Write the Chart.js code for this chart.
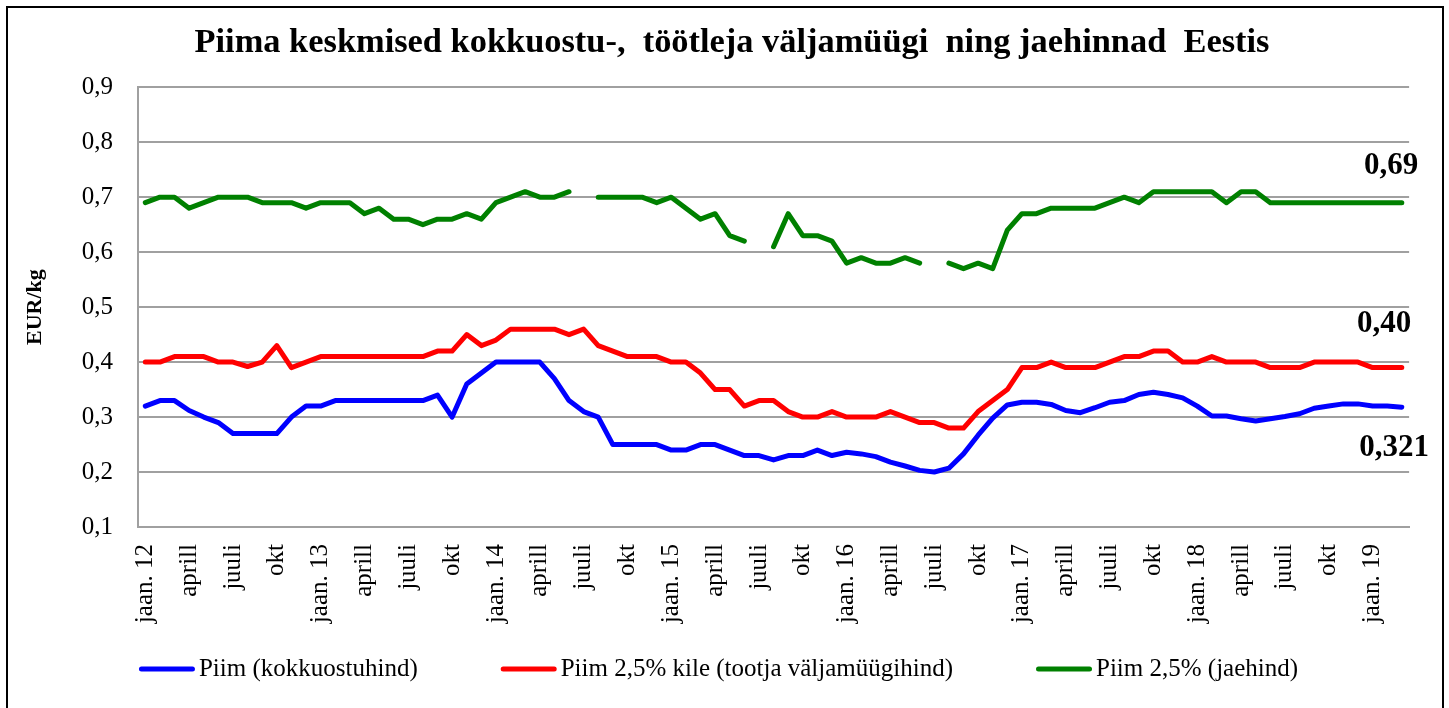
<!DOCTYPE html>
<html><head><meta charset="utf-8">
<script src="https://cdn.jsdelivr.net/npm/chart.js@4/dist/chart.umd.min.js"></script>
<style>html,body{margin:0;padding:0;background:#fff;overflow:hidden}#wrap{width:1449px;height:708px}</style>
</head><body><div id="wrap"><canvas id="c" width="1449" height="708"></canvas></div>
<script>
const categories = [
'jaan. 12','veebr','märts','aprill','mai','juuni','juuli','aug','sept','okt','nov','dets',
'jaan. 13','veebr','märts','aprill','mai','juuni','juuli','aug','sept','okt','nov','dets',
'jaan. 14','veebr','märts','aprill','mai','juuni','juuli','aug','sept','okt','nov','dets',
'jaan. 15','veebr','märts','aprill','mai','juuni','juuli','aug','sept','okt','nov','dets',
'jaan. 16','veebr','märts','aprill','mai','juuni','juuli','aug','sept','okt','nov','dets',
'jaan. 17','veebr','märts','aprill','mai','juuni','juuli','aug','sept','okt','nov','dets',
'jaan. 18','veebr','märts','aprill','mai','juuni','juuli','aug','sept','okt','nov','dets',
'jaan. 19','veebr','märts'];

const kokkuostuhind = [
0.32,0.33,0.33,0.312,0.30,0.29,0.27,0.27,0.27,0.27,0.30,0.32,
0.32,0.33,0.33,0.33,0.33,0.33,0.33,0.33,0.34,0.30,0.36,0.38,
0.40,0.40,0.40,0.40,0.37,0.33,0.31,0.30,0.25,0.25,0.25,0.25,
0.24,0.24,0.25,0.25,0.24,0.23,0.23,0.222,0.23,0.23,0.24,0.23,
0.236,0.233,0.228,0.218,0.211,0.203,0.20,0.207,0.233,0.267,0.298,0.322,
0.327,0.327,0.323,0.312,0.308,0.317,0.327,0.33,0.341,0.345,0.341,0.335,
0.32,0.302,0.302,0.297,0.293,0.297,0.301,0.306,0.316,0.32,0.324,0.324,
0.32,0.32,0.318];

const tootjaHind = [
0.40,0.40,0.41,0.41,0.41,0.40,0.40,0.392,0.40,0.43,0.39,0.40,
0.41,0.41,0.41,0.41,0.41,0.41,0.41,0.41,0.42,0.42,0.45,0.43,
0.44,0.46,0.46,0.46,0.46,0.45,0.46,0.43,0.42,0.41,0.41,0.41,
0.40,0.40,0.38,0.35,0.35,0.32,0.33,0.33,0.31,0.30,0.30,0.31,
0.30,0.30,0.30,0.31,0.30,0.29,0.29,0.28,0.28,0.31,0.33,0.35,
0.39,0.39,0.40,0.39,0.39,0.39,0.40,0.41,0.41,0.42,0.42,0.40,
0.40,0.41,0.40,0.40,0.40,0.39,0.39,0.39,0.40,0.40,0.40,0.40,
0.39,0.39,0.39];

const jaehind = [
0.69,0.70,0.70,0.68,0.69,0.70,0.70,0.70,0.69,0.69,0.69,0.68,
0.69,0.69,0.69,0.67,0.68,0.66,0.66,0.65,0.66,0.66,0.67,0.66,
0.69,0.70,0.71,0.70,0.70,0.71,null,0.70,0.70,0.70,0.70,0.69,
0.70,0.68,0.66,0.67,0.63,0.62,null,0.61,0.67,0.63,0.63,0.62,
0.58,0.59,0.58,0.58,0.59,0.58,null,0.58,0.57,0.58,0.57,0.64,
0.67,0.67,0.68,0.68,0.68,0.68,0.69,0.70,0.69,0.71,0.71,0.71,
0.71,0.71,0.69,0.71,0.71,0.69,0.69,0.69,0.69,0.69,0.69,0.69,
0.69,0.69,0.69];

const seriesNames = ['Piim (kokkuostuhind)', 'Piim 2,5% kile (tootja väljamüügihind)', 'Piim 2,5% (jaehind)'];
const seriesColors = ['#0000FF', '#FF0000', '#008000'];
const endLabels = ['0,321', '0,40', '0,69'];
const yMin = 0.1, yMax = 0.9, yStep = 0.1;
const titleText = 'Piima keskmised kokkuostu-,  töötleja väljamüügi  ning jaehinnad  Eestis';
const yTitle = 'EUR/kg';

const FONT = "'Liberation Serif', 'Times New Roman', serif";
Chart.defaults.font.family = FONT;
Chart.defaults.color = '#000';

const frame = {
  id: 'frame',
  afterLayout(chart) {
    if (chart.titleBlock) { chart.titleBlock.left += 27; }
  },
  beforeDraw(chart) {
    const ctx = chart.ctx;
    ctx.save();
    ctx.fillStyle = '#fff';
    ctx.fillRect(0, 0, chart.width, chart.height);
    ctx.strokeStyle = '#000';
    ctx.lineWidth = 2;
    ctx.strokeRect(7, 7, 1436, 720);
    ctx.restore();
  }
};

const endLabelPlugin = {
  id: 'endLabels',
  afterDatasetsDraw(chart) {
    const {ctx, chartArea, scales} = chart;
    const offs = [[-15, 41], [-25, -44], [-18, -37]];
    ctx.save();
    ctx.font = "bold 31px " + FONT;
    ctx.fillStyle = '#000';
    ctx.textAlign = 'center';
    ctx.textBaseline = 'middle';
    chart.data.datasets.forEach((ds, k) => {
      const last = ds.data[ds.data.length - 1];
      ctx.fillText(endLabels[k], chartArea.right + offs[k][0], scales.y.getPixelForValue(last) + offs[k][1]);
    });
    ctx.restore();
  }
};

const legendPlugin = {
  id: 'lineLegend',
  afterDraw(chart) {
    const ctx = chart.ctx;
    ctx.save();
    ctx.font = '25px ' + FONT;
    const lineLen = 56, gapText = 4, gapItem = 83, centerX = 718.5, y = 669;
    const widths = chart.data.datasets.map(ds => ctx.measureText(ds.label).width);
    const total = widths.reduce((a, w) => a + lineLen + gapText + w, 0) + gapItem * (widths.length - 1);
    let x = centerX - total / 2;
    chart.data.datasets.forEach((ds, k) => {
      ctx.strokeStyle = ds.borderColor;
      ctx.lineWidth = 5;
      ctx.lineCap = 'round';
      ctx.beginPath();
      ctx.moveTo(x + 2.5, y);
      ctx.lineTo(x + lineLen - 2.5, y);
      ctx.stroke();
      ctx.fillStyle = '#000';
      ctx.textAlign = 'left';
      ctx.textBaseline = 'middle';
      ctx.fillText(ds.label, x + lineLen + gapText, y);
      x += lineLen + gapText + widths[k] + gapItem;
    });
    ctx.restore();
  }
};

const seriesData = [kokkuostuhind, tootjaHind, jaehind];
const datasets = seriesData.map((d, k) => ({
  label: seriesNames[k],
  data: d,
  borderColor: seriesColors[k],
  backgroundColor: seriesColors[k],
  borderWidth: 5,
  pointRadius: 0,
  pointHoverRadius: 0,
  tension: 0,
  spanGaps: false,
  borderCapStyle: 'round',
  borderJoinStyle: 'round',
  fill: false
}));

new Chart(document.getElementById('c'), {
  type: 'line',
  data: { labels: categories, datasets },
  options: {
    responsive: false,
    animation: false,
    events: [],
    layout: { padding: { left: 22, right: 34, top: 10, bottom: 0 } },
    plugins: {
      title: {
        display: true,
        text: titleText,
        color: '#000',
        font: { size: 34.4, weight: 'bold', family: FONT },
        padding: { top: 12, bottom: 24 }
      },
      legend: { display: false },
      tooltip: { enabled: false }
    },
    scales: {
      x: {
        type: 'category',
        offset: true,
        grid: { display: false, drawTicks: false },
        border: { display: true, color: '#a0a0a0', width: 2 },
        ticks: {
          autoSkip: false,
          minRotation: 90,
          maxRotation: 90,
          padding: 17,
          color: '#000',
          font: { size: 25, family: FONT },
          callback: function (value, index) { return index % 3 === 0 ? this.getLabelForValue(value) : ''; }
        },
        afterFit(s) { s.height = 181; }
      },
      y: {
        min: yMin,
        max: yMax,
        grid: { color: '#a0a0a0', lineWidth: 2, drawTicks: false },
        border: { display: true, color: '#a0a0a0', width: 2 },
        ticks: {
          stepSize: yStep,
          padding: 25,
          color: '#000',
          font: { size: 25, family: FONT },
          callback: v => v.toFixed(1).replace('.', ',')
        },
        title: {
          display: true,
          text: yTitle,
          color: '#000',
          font: { size: 22, weight: 'bold', family: FONT },
          padding: { top: 0, bottom: 0 }
        },
        afterFit(s) { s.width = 116; }
      }
    }
  },
  plugins: [frame, endLabelPlugin, legendPlugin]
});
</script>
</body></html>
